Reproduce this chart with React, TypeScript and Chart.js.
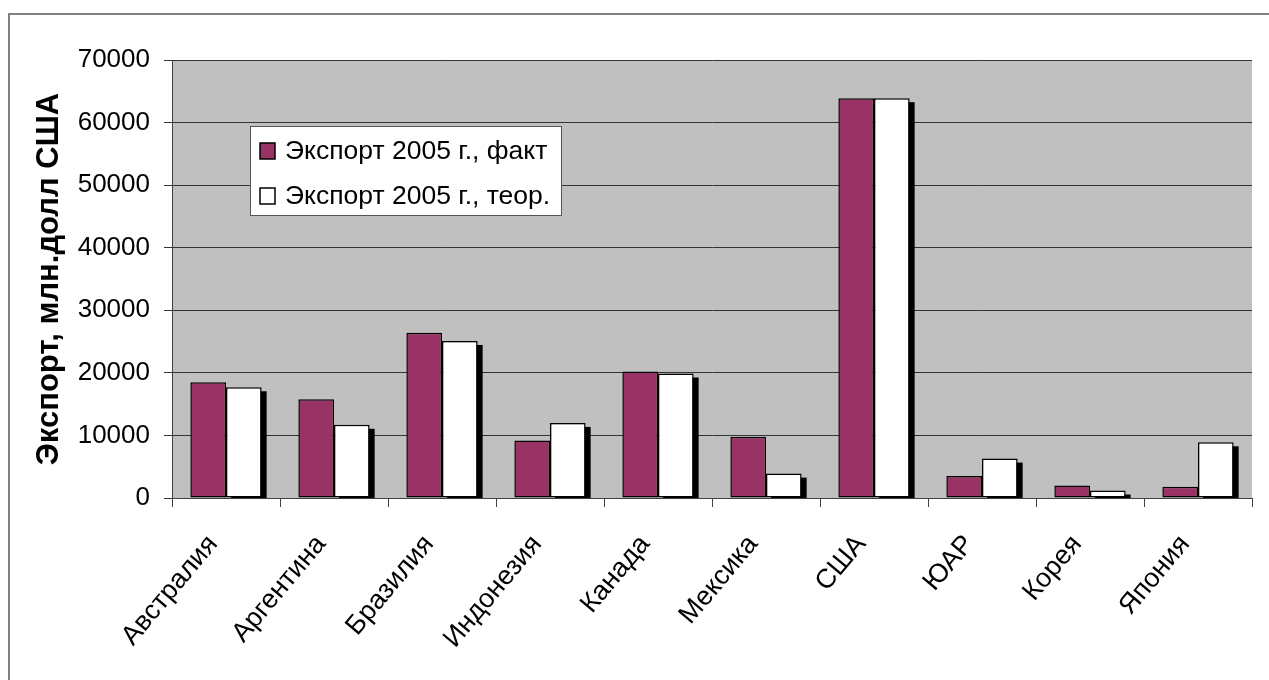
import React, { useEffect, useRef } from "react";
import { Chart, registerables } from "chart.js";

Chart.register(...registerables);

const categories = ["Австралия", "Аргентина", "Бразилия", "Индонезия", "Канада", "Мексика", "США", "ЮАР", "Корея", "Япония"];
const exportFact = [18500, 15800, 26400, 9200, 20200, 9800, 63900, 3500, 2000, 1800];
const exportTheor = [17700, 11700, 25100, 12000, 19900, 3900, 63900, 6300, 1200, 8900];
const seriesLabels = ["Экспорт 2005 г., факт", "Экспорт 2005 г., теор."];
const seriesColors = ["#993366", "#ffffff"];
const yAxisTitle = "Экспорт, млн.долл США";
const yMin = 0;
const yMax = 70000;
const yStep = 10000;

const FONT = "'Liberation Sans', Arial, sans-serif";

const decor = {
  id: "decor",
  beforeDraw(chart: any) {
    const { ctx, chartArea: a, width, height } = chart;
    ctx.save();
    ctx.fillStyle = "#ffffff";
    ctx.fillRect(0, 0, width, height);
    ctx.strokeStyle = "#808080";
    ctx.lineWidth = 2;
    ctx.strokeRect(9, 14, width + 50, height + 50);
    ctx.fillStyle = "#c0c0c0";
    ctx.fillRect(a.left, a.top, a.right - a.left, a.bottom - a.top);
    ctx.restore();
  },
  beforeDatasetsDraw(chart: any) {
    const { ctx, chartArea: a } = chart;
    const meta = chart.getDatasetMeta(1);
    ctx.save();
    ctx.beginPath();
    ctx.rect(a.left, a.top, a.right - a.left, a.bottom - a.top);
    ctx.clip();
    ctx.fillStyle = "#000000";
    meta.data.forEach((bar: any) => {
      const { x, y, base, width } = bar.getProps(["x", "y", "base", "width"], true);
      ctx.fillRect(x - width / 2 + 5, y + 4, width, base - y);
    });
    ctx.restore();
  },
  afterDatasetsDraw(chart: any) {
    const { ctx } = chart;
    const bx = 250, by = 126, bw = 311, bh = 89;
    ctx.save();
    ctx.fillStyle = "#ffffff";
    ctx.fillRect(bx, by, bw, bh);
    ctx.strokeStyle = "#555555";
    ctx.lineWidth = 1;
    ctx.strokeRect(bx + 0.5, by + 0.5, bw, bh);
    ctx.font = `26.5px ${FONT}`;
    ctx.textBaseline = "middle";
    ctx.textAlign = "left";
    chart.data.datasets.forEach((ds: any, i: number) => {
      const cy = 151 + i * 45;
      ctx.fillStyle = ds.backgroundColor;
      ctx.fillRect(260, cy - 8, 15, 16);
      ctx.strokeStyle = "#000000";
      ctx.lineWidth = 1.5;
      ctx.strokeRect(260, cy - 8, 15, 16);
      ctx.fillStyle = "#000000";
      ctx.fillText(ds.label, 285, cy + 1);
    });
    ctx.restore();
  },
};

export default function App() {
  const ref = useRef<HTMLCanvasElement | null>(null);

  useEffect(() => {
    document.body.style.margin = "0";
    const canvas = ref.current;
    if (!canvas) return;
    const chart = new Chart(canvas, {
      type: "bar",
      data: {
        labels: categories,
        datasets: [
          {
            label: seriesLabels[0],
            data: exportFact,
            backgroundColor: seriesColors[0],
            borderColor: "#000000",
            borderWidth: 1.5,
            borderSkipped: false,
            categoryPercentage: 0.66,
            barPercentage: 1.0,
          },
          {
            label: seriesLabels[1],
            data: exportTheor,
            backgroundColor: seriesColors[1],
            borderColor: "#000000",
            borderWidth: 1.5,
            borderSkipped: false,
            categoryPercentage: 0.66,
            barPercentage: 1.0,
          },
        ],
      },
      options: {
        animation: false,
        responsive: true,
        maintainAspectRatio: false,
        layout: { padding: { top: 60, right: 17, left: 0, bottom: 0 } },
        plugins: {
          legend: { display: false },
          tooltip: { enabled: false },
          title: { display: false },
        },
        scales: {
          x: {
            grid: {
              display: true,
              drawOnChartArea: false,
              drawTicks: true,
              tickLength: 9,
              color: "#404040",
              offset: true,
            },
            border: { display: true, color: "#404040", width: 1 },
            ticks: {
              font: { family: FONT, size: 27 },
              color: "#000000",
              minRotation: 50,
              maxRotation: 50,
              padding: 22,
              labelOffset: -13,
              autoSkip: false,
            },
            afterFit(scale: any) {
              scale.height = 182;
            },
          },
          y: {
            min: yMin,
            max: yMax,
            ticks: {
              stepSize: yStep,
              font: { family: FONT, size: 26 },
              color: "#000000",
              padding: 14,
              callback: (v: any) => String(v),
            },
            grid: { color: "#333333", tickLength: 8, drawTicks: true, lineWidth: 1 },
            border: { display: true, color: "#404040", width: 1 },
            title: {
              display: true,
              text: yAxisTitle,
              color: "#000000",
              font: { family: FONT, size: 31, weight: "bold" },
              padding: { top: 31, bottom: 0 },
            },
            afterFit(scale: any) {
              scale.width = 172;
            },
          },
        },
      },
      plugins: [decor],
    } as any);
    return () => chart.destroy();
  }, []);

  return (
    <div style={{ width: 1269, height: 680, position: "relative" }}>
      <canvas ref={ref} />
    </div>
  );
}
